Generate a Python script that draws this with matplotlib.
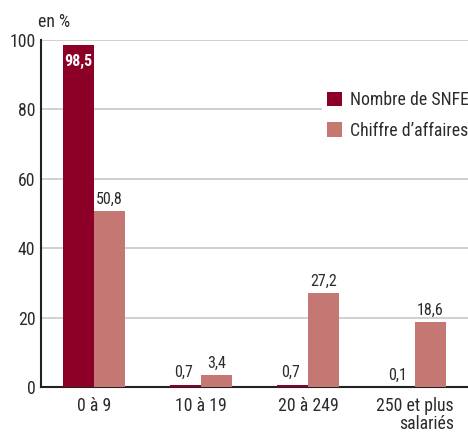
import matplotlib.pyplot as plt
import numpy as np

categories = ["0 à 9", "10 à 19", "20 à 249", "250 et plus\nsalariés"]
nombre_snfei = [98.5, 0.7, 0.7, 0.1]
chiffre_affaires = [50.8, 3.4, 27.2, 18.6]
series_names = ["Nombre de SNFEI", "Chiffre d’affaires"]

DARK = "#8c0028"
LIGHT = "#c57773"
TEXT = "#2b2b2b"

plt.rcParams["font.family"] = ["Roboto Condensed", "DejaVu Sans"]
plt.rcParams["font.size"] = 12.8


def fmt(v):
    return f"{v:.1f}".replace(".", ",")


fig = plt.figure(figsize=(4.68, 4.32), dpi=100)
ax = fig.add_axes([41 / 468, 1 - 387 / 432, 1 - 41 / 468, 347 / 432])

x = np.arange(len(categories))
w = 0.29
b1 = ax.bar(x - w / 2, nombre_snfei, w, color=DARK, label=series_names[0], zorder=3)
b2 = ax.bar(x + w / 2, chiffre_affaires, w, color=LIGHT, label=series_names[1], zorder=3)

# value labels: white inside the tall bar, dark above the others
for rect, v in zip(b1, nombre_snfei):
    cx = rect.get_x() + rect.get_width() / 2
    if v > 50:
        ax.text(cx, v - 6.0, fmt(v), ha="center", va="baseline", color="white",
                fontweight="bold", fontsize=11.5)
    else:
        ax.text(cx - 0.02, v + 2.1, fmt(v), ha="center", va="baseline", color=TEXT,
                fontsize=11.5)
for rect, v in zip(b2, chiffre_affaires):
    cx = rect.get_x() + rect.get_width() / 2
    ax.text(cx, v + 2.1, fmt(v), ha="center", va="baseline", color=TEXT, fontsize=11.5)

ax.set_xlim(-0.495, 3.495)
ax.set_ylim(0, 100)
ax.set_yticks([0, 20, 40, 60, 80, 100])
ax.set_xticks(x)
ax.set_xticklabels(categories, multialignment="right", linespacing=1.05)
ax.tick_params(axis="x", length=0, pad=7, colors=TEXT)
ax.tick_params(axis="y", length=0, pad=4, colors=TEXT)
ax.grid(axis="y", color="#c8c8c8", linewidth=1.2, zorder=0)
for side in ("top", "right"):
    ax.spines[side].set_visible(False)
for side in ("left", "bottom"):
    ax.spines[side].set_color("#222222")
    ax.spines[side].set_linewidth(1.5)

fig.text(38 / 468, 1 - 27 / 432, "en %", ha="left", va="baseline", color=TEXT)

leg = ax.legend(loc="upper left", bbox_to_anchor=(0.638, 0.892), frameon=True,
                fancybox=False, edgecolor="white", facecolor="white", framealpha=1,
                handlelength=0.85, handleheight=0.85, handletextpad=0.45,
                labelspacing=0.72, borderpad=0.25, labelcolor=TEXT)
leg.set_zorder(5)

fig.savefig("out.png", dpi=100)
